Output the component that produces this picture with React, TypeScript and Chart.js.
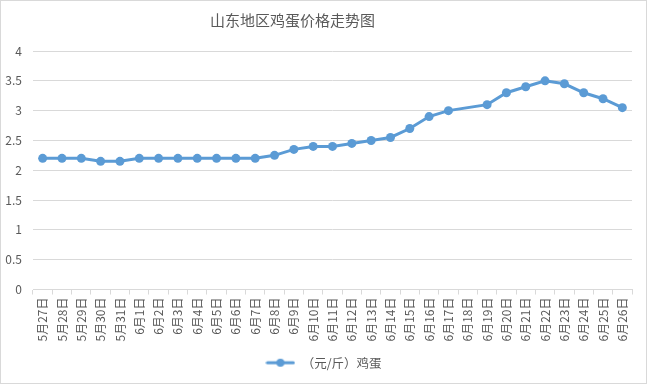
import React, { useEffect, useRef } from "react";
import { Chart, registerables } from "chart.js";

Chart.register(...registerables);

const TITLE = "山东地区鸡蛋价格走势图";
const SERIES_NAME = "（元/斤）鸡蛋";
const categories = [
  "5月27日", "5月28日", "5月29日", "5月30日", "5月31日",
  "6月1日", "6月2日", "6月3日", "6月4日", "6月5日", "6月6日", "6月7日",
  "6月8日", "6月9日", "6月10日", "6月11日", "6月12日", "6月13日", "6月14日",
  "6月15日", "6月16日", "6月17日", "6月18日", "6月19日", "6月20日", "6月21日",
  "6月22日", "6月23日", "6月24日", "6月25日", "6月26日",
];
const prices: (number | null)[] = [
  2.2, 2.2, 2.2, 2.15, 2.15,
  2.2, 2.2, 2.2, 2.2, 2.2, 2.2, 2.2,
  2.25, 2.35, 2.4, 2.4, 2.45, 2.5, 2.55,
  2.7, 2.9, 3.0, null, 3.1, 3.3, 3.4,
  3.5, 3.45, 3.3, 3.2, 3.05,
];
const yMin = 0;
const yMax = 4;
const yStep = 0.5;

const LINE_COLOR = "#5b9bd5";
const TEXT_COLOR = "#595959";
const GRID_COLOR = "#d9d9d9";
const FONT = "'Noto Sans CJK SC', 'Noto Sans', sans-serif";

function makeLegendIcon(): HTMLCanvasElement {
  const c = document.createElement("canvas");
  c.width = 30;
  c.height = 10;
  const ctx = c.getContext("2d")!;
  ctx.strokeStyle = LINE_COLOR;
  ctx.lineWidth = 3;
  ctx.lineCap = "round";
  ctx.beginPath();
  ctx.moveTo(2, 5);
  ctx.lineTo(28, 5);
  ctx.stroke();
  ctx.fillStyle = LINE_COLOR;
  ctx.beginPath();
  ctx.arc(15, 5, 4, 0, Math.PI * 2);
  ctx.fill();
  return c;
}

const shiftBlocks = {
  id: "shiftBlocks",
  afterLayout(chart: any) {
    if (chart.titleBlock) chart.titleBlock.right -= 48;
    if (chart.legend) {
      chart.legend.left += 7;
      chart.legend.right += 7;
      chart.legend.adjustHitBoxes && chart.legend.adjustHitBoxes();
    }
  },
};

export default function App() {
  const ref = useRef<HTMLCanvasElement | null>(null);
  useEffect(() => {
    if (!ref.current) return;
    const icon = makeLegendIcon();
    const chart = new Chart(ref.current, {
      type: "line",
      plugins: [shiftBlocks],
      data: {
        labels: categories,
        datasets: [
          {
            label: SERIES_NAME,
            data: prices,
            borderColor: LINE_COLOR,
            backgroundColor: LINE_COLOR,
            borderWidth: 3,
            pointRadius: 4.5,
            pointHoverRadius: 4.5,
            pointBorderWidth: 0,
            spanGaps: true,
            tension: 0,
          },
        ],
      },
      options: {
        responsive: false,
        animation: false,
        layout: { padding: { left: 0, right: 14, top: 0, bottom: 4 } },
        plugins: {
          title: {
            display: true,
            text: TITLE,
            color: TEXT_COLOR,
            font: { family: FONT, size: 15, weight: "normal" },
            padding: { top: 10, bottom: 22 },
          },
          legend: {
            position: "bottom",
            labels: {
              usePointStyle: true,
              pointStyle: icon as any,
              pointStyleWidth: 30,
              color: TEXT_COLOR,
              font: { family: FONT, size: 12.5 },
              padding: 10,
            },
          },
          tooltip: { enabled: false },
        },
        scales: {
          x: {
            type: "category",
            offset: true,
            grid: {
              offset: true,
              drawOnChartArea: false,
              drawTicks: true,
              tickLength: 5,
              color: GRID_COLOR,
            },
            border: { display: true, color: GRID_COLOR },
            ticks: {
              autoSkip: false,
              maxRotation: 90,
              minRotation: 90,
              color: TEXT_COLOR,
              font: { family: FONT, size: 12 },
              padding: 3,
            },
            afterFit: (scale: any) => {
              scale.height = scale.height + 2;
            },
          },
          y: {
            min: yMin,
            max: yMax,
            grid: { color: GRID_COLOR, drawTicks: false },
            border: { display: false },
            ticks: {
              stepSize: yStep,
              color: TEXT_COLOR,
              font: { family: FONT, size: 12 },
              padding: 11,
              callback: (v: any) => String(Number(v)),
            },
            afterFit: (scale: any) => {
              scale.width = 32;
            },
          },
        },
      },
    });
    return () => chart.destroy();
  }, []);
  return (
    <div
      style={{
        position: "absolute",
        left: 0,
        top: 0,
        width: 647,
        height: 384,
        boxSizing: "border-box",
        border: "1px solid #d9d9d9",
        background: "#fff",
      }}
    >
      <canvas ref={ref} width={645} height={382} style={{ display: "block" }} />
    </div>
  );
}
